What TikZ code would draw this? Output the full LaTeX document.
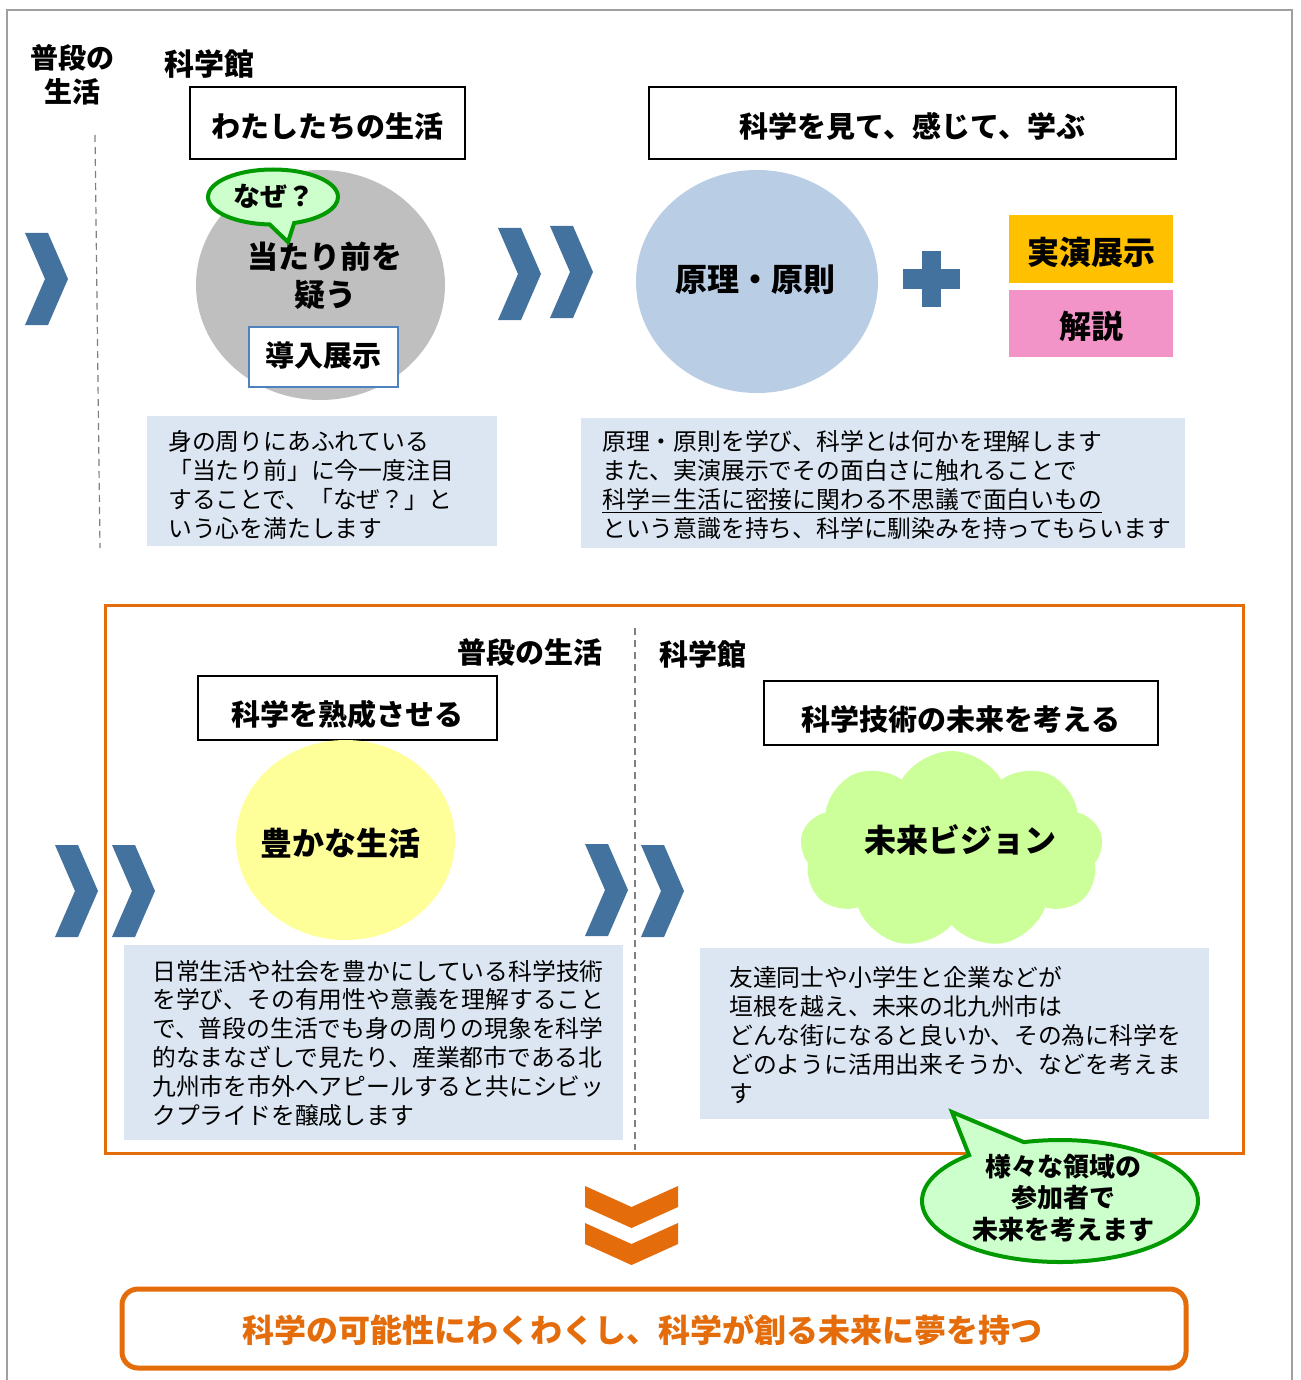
\documentclass[tikz,border=0pt]{standalone}
\usepackage{fontspec}
\setmainfont{Noto Sans CJK JP}
\usetikzlibrary{shapes.geometric,shapes.symbols,shapes.callouts}
\definecolor{chevblue}{HTML}{44729E}
\definecolor{grayell}{HTML}{BFBFBF}
\definecolor{blueell}{HTML}{B9CDE5}
\definecolor{yellell}{HTML}{FFFF99}
\definecolor{cloudgreen}{HTML}{CCFF99}
\definecolor{infofill}{HTML}{DCE6F2}
\definecolor{orangeline}{HTML}{E46C0A}
\definecolor{bubgreen}{HTML}{009A00}
\definecolor{bubfill}{HTML}{CCFFCC}
\definecolor{demoorange}{HTML}{FFC000}
\definecolor{pinkbox}{HTML}{F394C8}
\definecolor{introblue}{HTML}{4F81BD}
\definecolor{framegray}{HTML}{A0A0A0}
\definecolor{dashgray}{HTML}{808080}
\begin{document}
\begin{tikzpicture}[x=1pt,y=-1pt,
  titlebox/.style={draw=black, line width=1.5pt, fill=white, inner sep=0pt},
  titletext/.style={inner sep=0pt, font=\fontsize{29}{34}\selectfont\bfseries},
  bigtext/.style={inner sep=0pt, font=\fontsize{32}{38}\selectfont\bfseries},
  ell/.style={ellipse, inner sep=0pt},
  infobox/.style={fill=infofill, inner sep=0pt, anchor=north west},
  bodytext/.style={anchor=west, align=left, inner sep=0pt, font=\fontsize{23.8}{28.8}\selectfont},
  dashline/.style={draw=dashgray, line width=1.2pt, dash pattern=on 7pt off 5pt},
  bubble/.style={ellipse callout, fill=bubfill, draw=bubgreen, line width=4pt, inner sep=0pt},
  chevr/.pic={\fill[chevblue] (0,0) -- (23,0) -- (43,46) -- (23,92) -- (0,92) -- (20,46) -- cycle;},
  downchev/.pic={\fill[orangeline] (0,0) -- (46.5,21) -- (93,0) -- (93,21) -- (46.5,42) -- (0,21) -- cycle;}
]
\useasboundingbox (0,0) rectangle (1300,1380);
\fill[white] (0,0) rectangle (1300,1380);
% outer frame
\draw[framegray, line width=1.5pt] (7,1395) -- (7,10) -- (1292,10) -- (1292,1395);

% ================= top section =================
\node[inner sep=0pt, align=center, font=\fontsize{28}{34}\selectfont\bfseries] (futsu1) at (72,75) {普段の\\生活};
\node[inner sep=0pt, font=\fontsize{30}{34}\selectfont\bfseries] (kan1) at (209,64) {科学館};
\coordinate (d1a) at (95,135);
\coordinate (d1b) at (100,548);
\draw[dashline] (d1a) -- (d1b);
\pic at (25,233) {chevr};

\node[titlebox, minimum width=275pt, minimum height=72pt] (box1) at (327.5,123) {};
\node[titletext] (box1t) at (327.5,126) {わたしたちの生活};

\node[ell, fill=grayell, minimum width=249pt, minimum height=230pt] (grayE) at (320.5,285) {};
\node[inner sep=0pt, align=center, font=\fontsize{31}{38}\selectfont\bfseries] (atarimae) at (325,276) {当たり前を\\疑う};
\node[draw=introblue, line width=2pt, fill=white, minimum width=149pt, minimum height=60pt, inner sep=0pt] (intro) at (323.5,357) {};
\node[titletext] (introt) at (323.5,355) {導入展示};
\node[bubble, minimum width=130pt, minimum height=55pt, callout absolute pointer={(288,242)}, callout pointer arc=22] (naze) at (273,197) {};
\node[inner sep=0pt, font=\fontsize{27}{32}\selectfont\bfseries] (nazet) at (274,196) {なぜ？};

\pic at (498,228) {chevr};
\pic at (550,226) {chevr};

\node[titlebox, minimum width=527pt, minimum height=72pt] (box2) at (912.5,123) {};
\node[titletext] (box2t) at (912.5,126) {科学を見て、感じて、学ぶ};

\node[ell, fill=blueell, minimum width=242pt, minimum height=223pt] (blueE) at (757,281.5) {};
\node[bigtext] (genri) at (755,280) {原理・原則};

\fill[chevblue] (922,251) rectangle (941,307);
\fill[chevblue] (903,269) rectangle (960,289);

\node[fill=demoorange, minimum width=164pt, minimum height=68pt, inner sep=0pt] (demo) at (1091,249) {};
\node[bigtext] (demot) at (1091,252) {実演展示};
\node[fill=pinkbox, minimum width=164pt, minimum height=67pt, inner sep=0pt] (kaisetsu) at (1091,323.5) {};
\node[bigtext] (kaisetsut) at (1091,326) {解説};

\node[infobox, minimum width=350pt, minimum height=130pt] (info1) at (147,416) {};
\node[bodytext] (info1t) at (168,485) {身の周りにあふれている\\「当たり前」に今一度注目\\することで、「なぜ？」と\\いう心を満たします};

\node[infobox, minimum width=604pt, minimum height=130pt] (info2) at (581,418) {};
\node[bodytext] (info2t) at (602,485) {原理・原則を学び、科学とは何かを理解します\\また、実演展示でその面白さに触れることで\\\underline{科学＝生活に密接に関わる不思議で面白いもの}\\という意識を持ち、科学に馴染みを持ってもらいます};

% ================= bottom section =================
\node[draw=orangeline, line width=3pt, minimum width=1138pt, minimum height=548pt, inner sep=0pt] (frame) at (674,879) {};
\coordinate (d2a) at (635,628);
\coordinate (d2b) at (635,1150);
\draw[dashline] (d2a) -- (d2b);

\node[titletext, anchor=east] (futsu2) at (603,652) {普段の生活};
\node[titletext, anchor=west] (kan2) at (659,654) {科学館};

\node[titlebox, minimum width=299pt, minimum height=64pt] (box3) at (347.5,708) {};
\node[titletext] (box3t) at (347.5,714) {科学を熟成させる};

\node[ell, fill=yellell, minimum width=219pt, minimum height=200pt] (yellE) at (345.5,840) {};
\node[bigtext] (yutaka) at (340,843) {豊かな生活};

\pic at (55,845) {chevr};
\pic at (112,845) {chevr};
\pic at (585,844) {chevr};
\pic at (641,845) {chevr};

\node[titlebox, minimum width=394pt, minimum height=64pt] (box4) at (961,713) {};
\node[titletext] (box4t) at (961,719) {科学技術の未来を考える};

\node[cloud, cloud puffs=9, cloud puff arc=120, cloud ignores aspect, fill=cloudgreen, minimum width=303pt, minimum height=198pt, inner sep=0pt] (cloudN) at (951.5,850) {};
\node[bigtext] (mirai) at (960,840) {未来ビジョン};

\node[infobox, minimum width=499pt, minimum height=195pt] (info3) at (124,945) {};
\node[bodytext] (info3t) at (152,1043) {日常生活や社会を豊かにしている科学技術\\を学び、その有用性や意義を理解すること\\で、普段の生活でも身の周りの現象を科学\\的なまなざしで見たり、産業都市である北\\九州市を市外へアピールすると共にシビッ\\クプライドを醸成します};

\node[infobox, minimum width=509pt, minimum height=171pt] (info4) at (700,948) {};
\node[bodytext] (info4t) at (729,1035) {友達同士や小学生と企業などが\\垣根を越え、未来の北九州市は\\どんな街になると良いか、その為に科学を\\どのように活用出来そうか、などを考えま\\す};

\node[bubble, minimum width=276pt, minimum height=122pt, callout absolute pointer={(952,1112)}, callout pointer arc=26] (bub2) at (1060,1201) {};
\node[inner sep=0pt, align=center, font=\fontsize{26}{31.5}\selectfont\bfseries] (bub2t) at (1063,1198) {様々な領域の\\参加者で\\未来を考えます};

\pic at (585,1186) {downchev};
\pic at (585,1223) {downchev};

\node[draw=orangeline, line width=5pt, rounded corners=16pt, fill=white, minimum width=1064pt, minimum height=79pt, inner sep=0pt] (goal) at (654,1328.5) {};
\node[bigtext, text=orangeline] (goalt) at (642,1330) {科学の可能性にわくわくし、科学が創る未来に夢を持つ};
\end{tikzpicture}
\end{document}
